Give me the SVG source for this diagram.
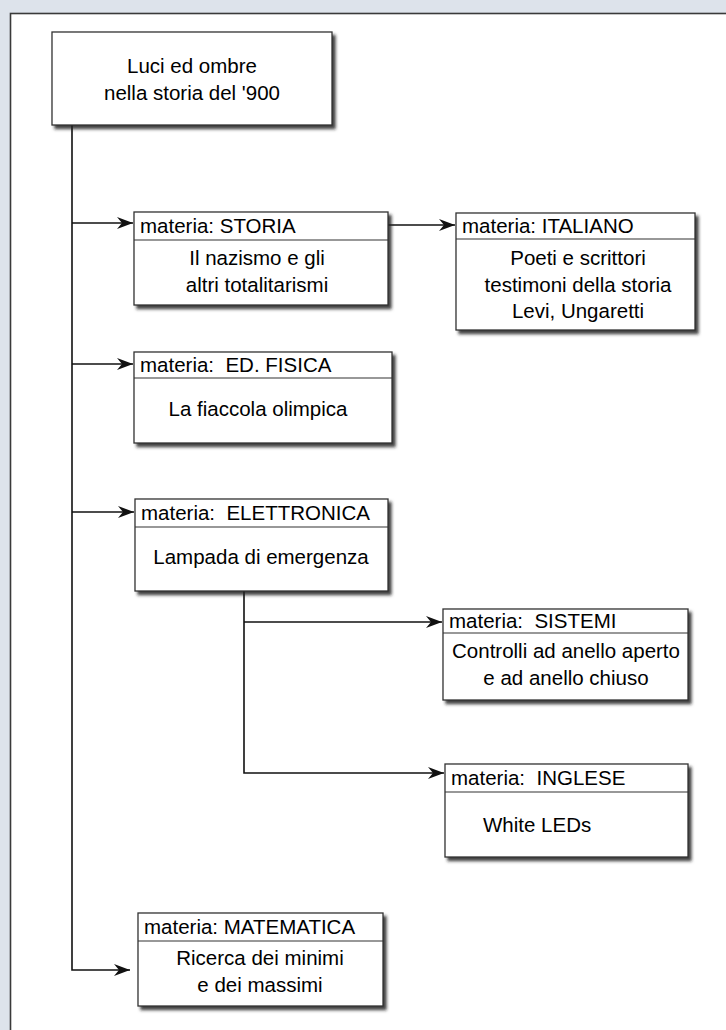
<svg xmlns="http://www.w3.org/2000/svg" width="726" height="1030" viewBox="0 0 726 1030">
<style>
.box{fill:#fff;stroke:#333;stroke-width:1.3;filter:url(#sh)}
.div{stroke:#333;stroke-width:1.2}
.t{font-family:"Liberation Sans",Arial,sans-serif;font-size:20.5px;fill:#000}
.c{text-anchor:middle}
.con{fill:none;stroke:#111;stroke-width:1.6}
</style>
<defs>
<filter id="sh" x="-10%" y="-10%" width="130%" height="130%">
<feDropShadow dx="3" dy="3.5" stdDeviation="1.4" flood-color="#1a1a1a" flood-opacity="0.85"/>
</filter>
<marker id="ah" markerUnits="userSpaceOnUse" markerWidth="18" markerHeight="14" refX="16" refY="6" orient="auto">
<path d="M0,0 L16,6 L0,12 L5,6 z" fill="#111"/>
</marker>
</defs>
<rect x="0" y="0" width="726" height="1030" fill="#dde3eb"/>
<rect x="10.5" y="13.5" width="740" height="1040" fill="#fff" stroke="#3a3a3a" stroke-width="1.6"/>

<g id="connectors">
<path class="con" d="M72,125 V970 H130" marker-end="url(#ah)"/>
<path class="con" d="M72,223 H133" marker-end="url(#ah)"/>
<path class="con" d="M72,364 H133" marker-end="url(#ah)"/>
<path class="con" d="M72,512 H134" marker-end="url(#ah)"/>
<path class="con" d="M388,225 H455" marker-end="url(#ah)"/>
<path class="con" d="M244,591 V773 H444" marker-end="url(#ah)"/>
<path class="con" d="M244,622 H442" marker-end="url(#ah)"/>
</g>

<g id="root">
<rect class="box" x="52" y="32" width="280" height="93"/>
<text class="t c" x="192" y="73">Luci ed ombre</text>
<text class="t c" x="192" y="100">nella storia del '900</text>
</g>

<g id="storia">
<rect class="box" x="134" y="212" width="254" height="93"/>
<line class="div" x1="134" y1="240" x2="388" y2="240"/>
<text class="t" x="140" y="233">materia: STORIA</text>
<text class="t c" x="257" y="265">Il nazismo e gli</text>
<text class="t c" x="257" y="292">altri totalitarismi</text>
</g>

<g id="italiano">
<rect class="box" x="456" y="213" width="239" height="117"/>
<line class="div" x1="456" y1="239" x2="695" y2="239"/>
<text class="t" x="462" y="233">materia: ITALIANO</text>
<text class="t c" x="578" y="265">Poeti e scrittori</text>
<text class="t c" x="578" y="292">testimoni della storia</text>
<text class="t c" x="578" y="318">Levi, Ungaretti</text>
</g>

<g id="edfisica">
<rect class="box" x="134" y="352" width="258" height="91"/>
<line class="div" x1="134" y1="378" x2="392" y2="378"/>
<text class="t" x="140" y="372" xml:space="preserve">materia:  ED. FISICA</text>
<text class="t c" x="258" y="416">La fiaccola olimpica</text>
</g>

<g id="elettronica">
<rect class="box" x="135" y="499" width="253" height="92"/>
<line class="div" x1="135" y1="527" x2="388" y2="527"/>
<text class="t" x="141" y="520" xml:space="preserve">materia:  ELETTRONICA</text>
<text class="t c" x="261" y="564">Lampada di emergenza</text>
</g>

<g id="sistemi">
<rect class="box" x="443" y="609" width="245" height="91"/>
<line class="div" x1="443" y1="633" x2="688" y2="633"/>
<text class="t" x="449" y="628" xml:space="preserve">materia:  SISTEMI</text>
<text class="t c" x="566" y="658">Controlli ad anello aperto</text>
<text class="t c" x="566" y="685">e ad anello chiuso</text>
</g>

<g id="inglese">
<rect class="box" x="445" y="764" width="243" height="93"/>
<line class="div" x1="445" y1="792" x2="688" y2="792"/>
<text class="t" x="451" y="785" xml:space="preserve">materia:  INGLESE</text>
<text class="t" x="483" y="832">White LEDs</text>
</g>

<g id="matematica">
<rect class="box" x="138" y="913" width="245" height="93"/>
<line class="div" x1="138" y1="941" x2="383" y2="941"/>
<text class="t" x="144" y="934">materia: MATEMATICA</text>
<text class="t c" x="260" y="965">Ricerca dei minimi</text>
<text class="t c" x="260" y="992">e dei massimi</text>
</g>
</svg>
